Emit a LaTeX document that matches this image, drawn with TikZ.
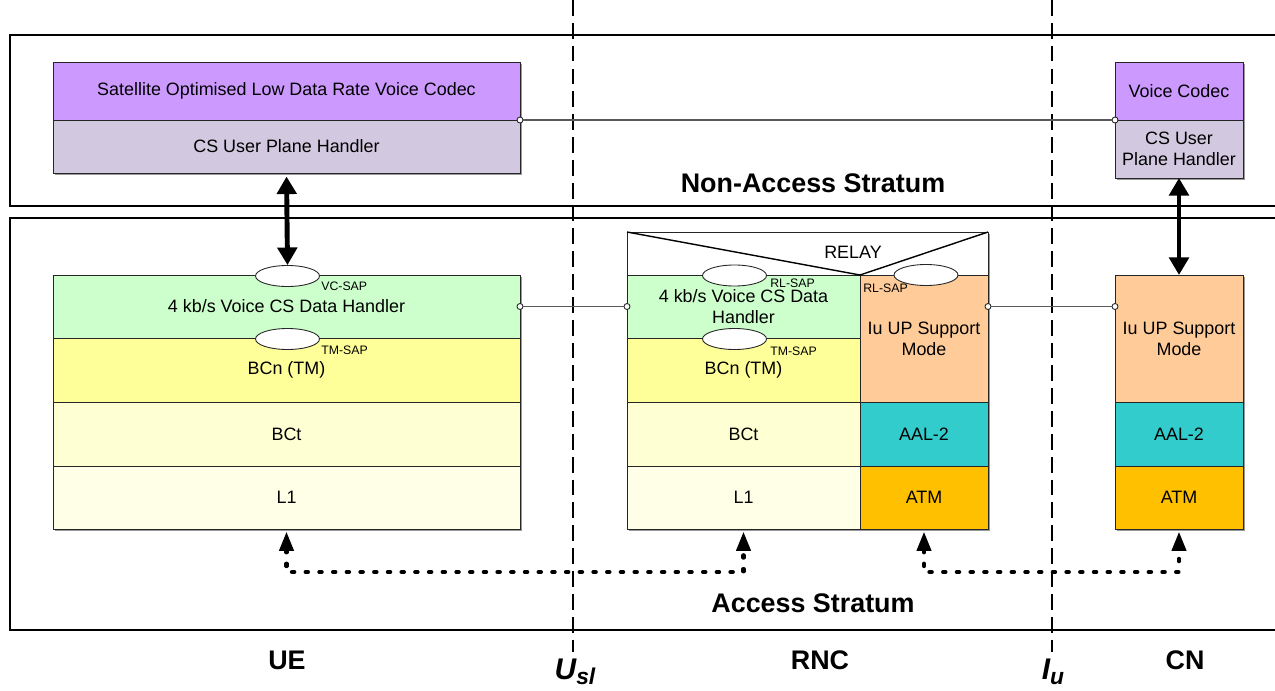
\documentclass[tikz,border=0pt]{standalone}
\usepackage{fontspec}
\setmainfont{Liberation Sans}
\usetikzlibrary{arrows.meta,shapes.geometric,shadows}

\definecolor{codec}{HTML}{CC99FF}
\definecolor{uph}{HTML}{D2C9E0}
\definecolor{dh}{HTML}{CCFFCC}
\definecolor{bcn}{HTML}{FFFF99}
\definecolor{bct}{HTML}{FFFFD4}
\definecolor{lone}{HTML}{FFFFE8}
\definecolor{iuup}{HTML}{FFCC99}
\definecolor{aal}{HTML}{33CCCC}
\definecolor{atm}{HTML}{FFC000}

\tikzset{
  blk/.style={shape=rectangle, draw=black!85, line width=0.5pt, inner sep=1pt, outer sep=0pt,
    align=center, font=\fontsize{10.2}{12}\selectfont,
    drop shadow={shadow xshift=0.9pt, shadow yshift=-0.9pt, fill=black!50, opacity=0.8}},
  sap/.style={shape=ellipse, draw=black!85, line width=0.5pt, fill=white, inner sep=0pt,
    minimum width=1.28cm, minimum height=0.42cm},
  saplbl/.style={inner sep=0pt, anchor=west, font=\fontsize{7}{8}\selectfont},
  port/.style={shape=circle, draw=black!85, line width=0.5pt, fill=white, inner sep=0pt,
    minimum size=0.12cm},
  conn/.style={draw=black!65, line width=0.7pt},
  stratum/.style={draw=black, line width=1.3pt},
  divider/.style={draw=black, line width=1.1pt, dash pattern=on 9pt off 4pt},
  bigarrow/.style={line width=2.8pt, {Triangle[length=10pt,width=11pt]}-{Triangle[length=10pt,width=11pt]}},
  dotarrow/.style={line width=2.3pt, line cap=round, dash pattern=on 1.4pt off 6.4pt,
    {Triangle[length=11pt,width=8pt]}-{Triangle[length=11pt,width=8pt]}},
  txt/.style={inner sep=0pt, font=\fontsize{10.2}{12}\selectfont},
  bigtxt/.style={inner sep=0pt, font=\fontsize{15.3}{18}\selectfont\bfseries},
  ifctxt/.style={inner sep=0pt, font=\fontsize{17}{18}\selectfont\bfseries\itshape},
}

% \stackbox{name}{x1}{y1}{x2}{y2}{fill}{text}  (pixel units)
\newcommand\stackbox[7]{%
  \node[blk, fill=#6, minimum width={(#4-#2)*0.02cm}, minimum height={(#5-#3)*0.02cm}]
    (#1) at ({(#2+#4)/2},{(#3+#5)/2}) {#7};}
% lowered interface subscript
\newcommand\ifcsub[1]{\raisebox{-2.5pt}{\fontsize{13}{14}\selectfont #1}}

\begin{document}
\begin{tikzpicture}[x=0.02cm, y=-0.02cm]
\useasboundingbox (0,0) rectangle (1275,690);

% stratum frames
\draw[stratum] (10,35) rectangle (1300,206);
\draw[stratum] (10,218) rectangle (1300,630);

% interface dividers
\coordinate (uslTop) at (573,0);
\coordinate (uslBot) at (573,652);
\coordinate (iuTop) at (1052,0);
\coordinate (iuBot) at (1052,652);
\draw[divider] (uslTop) -- (uslBot);
\draw[divider] (iuTop) -- (iuBot);

% non-access stratum entities
\stackbox{ueC}{53}{62}{520}{120}{codec}{Satellite Optimised Low Data Rate Voice Codec}
\stackbox{ueH}{53}{120}{520}{173}{uph}{CS User Plane Handler}
\stackbox{cnC}{1115}{62}{1243}{120}{codec}{Voice Codec}
\stackbox{cnH}{1115}{120}{1243}{178}{uph}{CS User\\Plane Handler}

% UE stack
\stackbox{ueD}{53}{275}{520}{338}{dh}{4 kb/s Voice CS Data Handler}
\stackbox{ueB}{53}{338}{520}{402}{bcn}{BCn (TM)}
\stackbox{ueT}{53}{402}{520}{466}{bct}{BCt}
\stackbox{ueL}{53}{466}{520}{529}{lone}{L1}

% RNC stack
\stackbox{relay}{627}{232}{988}{275}{white}{}
\stackbox{rncD}{627}{275}{860}{338}{dh}{4 kb/s Voice CS Data\\Handler}
\stackbox{rncB}{627}{338}{860}{402}{bcn}{BCn (TM)}
\stackbox{rncT}{627}{402}{860}{466}{bct}{BCt}
\stackbox{rncL}{627}{466}{860}{529}{lone}{L1}
\stackbox{rncI}{860}{275}{988}{402}{iuup}{Iu UP Support\\Mode}
\stackbox{rncA}{860}{402}{988}{466}{aal}{AAL-2}
\stackbox{rncM}{860}{466}{988}{529}{atm}{ATM}
\draw[line width=0.8pt] (relay.north west) -- (rncD.north east) -- (relay.north east);
\node[txt] (relaytxt) at (853,252) {RELAY};

% CN stack
\stackbox{cnI}{1115}{275}{1243}{402}{iuup}{Iu UP Support\\Mode}
\stackbox{cnA}{1115}{402}{1243}{466}{aal}{AAL-2}
\stackbox{cnM}{1115}{466}{1243}{529}{atm}{ATM}

% service access points
\node[sap] (vcsap) at (287.5,276) {};
\node[sap] (tmsapU) at (287.5,339) {};
\node[sap] (rlsapL) at (734.5,275.5) {};
\node[sap] (tmsapR) at (734.5,339) {};
\node[sap] (rlsapR) at (926,275) {};
\node[saplbl] (vclbl) at (321,286) {VC-SAP};
\node[saplbl] (tmlblU) at (321,350) {TM-SAP};
\node[saplbl] (rllblL) at (770,283) {RL-SAP};
\node[saplbl] (tmlblR) at (770,351) {TM-SAP};
\node[saplbl] (rllblR) at (863,288) {RL-SAP};

% peer connections
\node[port] (p1) at (ueC.south east) {};
\node[port] (p2) at (cnC.south west) {};
\node[port] (p3) at (ueD.east) {};
\node[port] (p4) at (rncD.west) {};
\node[port] (p5) at (rncI.east |- rncD.east) {};
\node[port] (p6) at (cnI.west |- rncD.east) {};
\draw[conn] (p1) -- (p2);
\draw[conn] (p3) -- (p4);
\draw[conn] (p5) -- (p6);

% vertical interfaces
\draw[bigarrow, shorten <=2pt] (ueH.south) -- (vcsap.north);
\draw[bigarrow] (cnH.south) -- (cnI.north);

% physical-layer paths
\draw[dotarrow, shorten <=1.5pt, shorten >=1.5pt] (ueL.south) -- ++(0,43) -| (rncL.south);
\draw[dotarrow, shorten <=1.5pt, shorten >=1.5pt] (rncM.south) -- ++(0,43) -| (cnM.south);

% stratum and entity labels
\node[bigtxt] (nas) at (813,183) {Non-Access Stratum};
\node[bigtxt] (as) at (813,603) {Access Stratum};
\node[bigtxt] (ue) at (287,660) {UE};
\node[bigtxt] (rnc) at (820,660) {RNC};
\node[bigtxt] (cn) at (1185,660) {CN};
\node[ifctxt] (usl) at (575,672) {U\ifcsub{sl}};
\node[ifctxt] (iu) at (1053,672) {I\ifcsub{u}};
\end{tikzpicture}
\end{document}
